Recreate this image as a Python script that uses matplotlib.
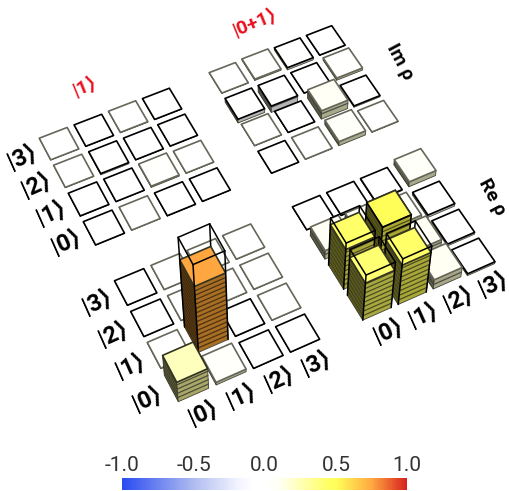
import numpy as np
import matplotlib
matplotlib.use("Agg")
import matplotlib.pyplot as plt
from matplotlib.cm import ScalarMappable
from matplotlib.colors import LinearSegmentedColormap, Normalize

plt.rcParams["font.family"] = ["Roboto", "DejaVu Sans"]

# rows are |0> .. |3>, columns are |0> .. |3>
re_one = [
    [0.23, 0.03, -0.002, -0.002],
    [0.006, 0.75, -0.003, 0.002],
    [-0.002, 0.002, 0.002, 0.002],
    [-0.002, 0.002, 0.002, 0.002],
]
im_one = [
    [-0.002, 0.001, -0.004, -0.002],
    [-0.004, -0.002, 0.012, 0.003],
    [0.002, -0.012, -0.003, -0.002],
    [0.001, -0.002, 0.004, -0.002],
]
re_plus = [
    [0.41, 0.43, 0.10, -0.02],
    [0.43, 0.50, 0.08, -0.02],
    [0.09, 0.08, 0.03, -0.025],
    [-0.002, -0.005, -0.01, 0.05],
]
im_plus = [
    [-0.002, 0.002, 0.04, 0.003],
    [0.003, -0.002, 0.08, -0.012],
    [-0.035, -0.06, -0.002, 0.02],
    [0.002, 0.012, -0.02, -0.002],
]
ideal_one = [[0, 0, 0, 0], [0, 1, 0, 0], [0, 0, 0, 0], [0, 0, 0, 0]]
ideal_plus = [[0.5, 0.5, 0, 0], [0.5, 0.5, 0, 0], [0, 0, 0, 0], [0, 0, 0, 0]]
zero = [[0] * 4 for _ in range(4)]

ket_labels = ["|0⟩", "|1⟩", "|2⟩", "|3⟩"]
cbar_ticks = [-1.0, -0.5, 0.0, 0.5, 1.0]

W, H = 510, 491

# camera: ground plane -> pixels, heights lean away from a vanishing point
src = [(0.1, 0.1), (8.9, 0.1), (8.9, 8.9), (0.1, 8.9)]
dst = [(178.3, 401.7), (495.0, 261.7), (331.7, 25.7), (39.3, 138.3)]
A, b = [], []
for (u, v), (x, y) in zip(src, dst):
    A.append([u, v, 1, 0, 0, 0, -u * x, -v * x])
    A.append([0, 0, 0, u, v, 1, -u * y, -v * y])
    b += [x, y]
hom = np.append(np.linalg.solve(np.array(A), np.array(b)), 1).reshape(3, 3)
vanish = np.array([273.0, 1563.0])
z_scale = 0.0725


def project(u, v, z=0.0):
    p = hom @ np.array([u, v, 1.0])
    p = p[:2] / p[2]
    return p + z * z_scale * (p - vanish)


cmap = LinearSegmentedColormap.from_list(
    "rho",
    [
        (0.0, "#2a4cf0"),
        (0.25, "#b0bcf0"),
        (0.4, "#f0f2ff"),
        (0.46, "#ffffff"),
        (0.5, "#ffffff"),
        (0.55, "#fffff4"),
        (0.72, "#ffff66"),
        (0.75, "#ffff58"),
        (0.875, "#ffaa40"),
        (1.0, "#d82020"),
    ],
)
norm = Normalize(-1, 1)

fig = plt.figure(figsize=(W / 100, H / 100), dpi=100)
ax = fig.add_axes([0, 0, 1, 1])
ax.set_xlim(0, W)
ax.set_ylim(H, 0)
ax.axis("off")

# painter's order: everything stacks in the order it is drawn
layer = [10]


def next_layer():
    layer[0] += 1
    return layer[0]


def face(corners, color, edge=None, lw=1.0):
    pts = np.array([project(*c) for c in corners])
    ax.fill(pts[:, 0], pts[:, 1], facecolor=color, edgecolor=edge if edge is not None else color,
            linewidth=lw, joinstyle="round", zorder=next_layer())


def wire(a, b, lw=1.1, color="black"):
    pts = np.array([project(*a), project(*b)])
    ax.plot(pts[:, 0], pts[:, 1], color=color, linewidth=lw, solid_capstyle="round", zorder=next_layer())


def draw_cell(u0, v0, val, want):
    u1, v1 = u0 + 0.8, v0 + 0.8
    top = val if val > 0 else 0.0
    low = 0.0 if val > 0 else val
    rgb = np.array(cmap(norm(val))[:3])
    tint = np.array([1, 1, 0.85])
    dark, mid = rgb * tint * 0.34, rgb * tint * 0.66
    if val < 0:
        dark, mid = np.array([0.3, 0.3, 0.3]), np.array([0.7, 0.7, 0.7])

    if want > 0:  # far side of the ideal box goes behind the bar
        wire((u0, v1, want), (u1, v1, want))
        wire((u1, v1, want), (u1, v0, want))
        wire((u1, v1, 0), (u1, v1, want))

    face([(u0, v0, low), (u0, v1, low), (u0, v1, top), (u0, v0, top)], dark, "#333322", 0.6)
    face([(u0, v0, low), (u1, v0, low), (u1, v0, top), (u0, v0, top)], mid, "#444433", 0.6)
    # layered look of the side faces
    for z in np.arange(low + 0.05, top, 0.05):
        wire((u0, v0, z), (u1, v0, z), 0.9, rgb * 0.3)
        wire((u0, v0, z), (u0, v1, z), 0.4, rgb * 0.2)

    edge = "black" if val <= 0 else "#66665a"
    if val > 0.2:
        edge = "#333322"
    face([(u0, v0, top), (u1, v0, top), (u1, v1, top), (u0, v1, top)], rgb, edge, 1.2)

    if want > 0:
        wire((u0, v0, want), (u1, v0, want))
        wire((u0, v0, want), (u0, v1, want))
        wire((u0, v0, 0), (u0, v0, want))
        wire((u1, v0, 0), (u1, v0, want))
        wire((u0, v1, 0), (u0, v1, want))


panels = [
    (im_plus, zero, 5, 5),
    (im_one, zero, 0, 5),
    (re_plus, ideal_plus, 5, 0),
    (re_one, ideal_one, 0, 0),
]
for values, ideal, du, dv in panels:
    cells = [(r, c) for r in range(4) for c in range(4)]
    cells.sort(key=lambda rc: -(rc[0] + rc[1]))
    for r, c in cells:
        draw_cell(du + c + 0.1, dv + r + 0.1, values[r][c], ideal[r][c])

label_font = dict(fontsize=17, fontweight="bold", ha="center", va="center", rotation=24, color="black", zorder=5000)
for dv in (0, 5):
    for r, name in enumerate(ket_labels):
        x, y = project(-0.55, dv + r + 0.5)
        ax.text(x, y, name, **label_font)
for du in (0, 5):
    for c, name in enumerate(ket_labels):
        x, y = project(du + c + 0.5, -0.45)
        ax.text(x, y, name, **label_font)

for u, v, name in [(1.84, 9.98, "|1⟩"), (7.02, 9.98, "|0+1⟩")]:
    x, y = project(u, v)
    ax.text(x, y, name, fontsize=14, fontweight="bold", color="#e8101c", ha="center", va="center", rotation=22)
for u, v, name in [(9.88, 1.86, "Re ρ"), (9.98, 6.9, "Im ρ")]:
    x, y = project(u, v)
    ax.text(x, y, name, fontsize=14, fontweight="bold", ha="center", va="center", rotation=-62)

cax = fig.add_axes([122.3 / W, 1 - 490 / H, 285 / W, 12 / H])
cb = fig.colorbar(ScalarMappable(norm=norm, cmap=cmap), cax=cax, orientation="horizontal")
cb.set_ticks(cbar_ticks)
cb.set_ticklabels(["%.1f" % t for t in cbar_ticks])
cb.outline.set_visible(False)
cax.xaxis.set_ticks_position("top")
cax.tick_params(axis="x", length=0, pad=2, labelsize=15, labelcolor="#333333")

fig.savefig("out.png", dpi=100, facecolor="white")
